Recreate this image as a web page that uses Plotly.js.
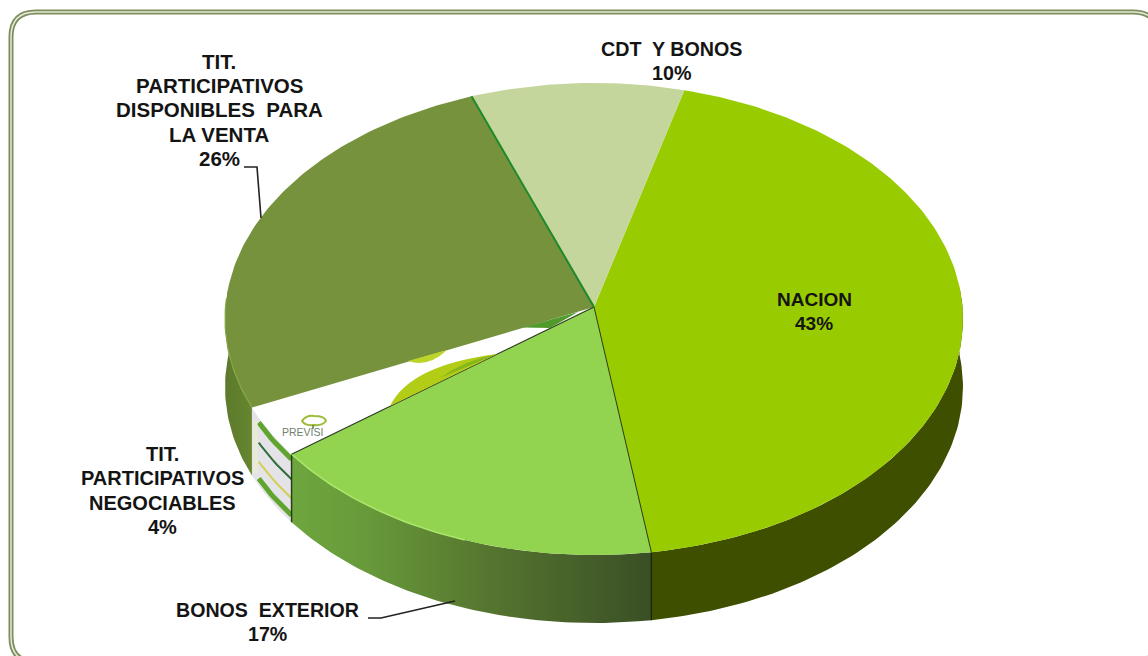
<!DOCTYPE html>
<html>
<head>
<meta charset="utf-8">
<script src="https://cdn.plot.ly/plotly-3.0.1.min.js"></script>
<style>html,body{margin:0;padding:0;background:#fff}#chart{width:1148px;height:656px}</style>
</head>
<body>
<div id="chart"></div>
<script>
// Data, clockwise from the start of NACION
const categories = ["NACION", "BONOS  EXTERIOR", "TIT. PARTICIPATIVOS NEGOCIABLES", "TIT. PARTICIPATIVOS DISPONIBLES  PARA LA VENTA", "CDT  Y BONOS"];
const values = [43.5, 17.0, 3.5, 26.2, 9.8];
const topColors = ["#99cc00", "#92d350", "#ffffff", "#76923c", "#c4d69b"];
const labelLines = [["NACION"], ["BONOS  EXTERIOR"], ["TIT.", "PARTICIPATIVOS", "NEGOCIABLES"], ["TIT.", "PARTICIPATIVOS", "DISPONIBLES  PARA", "LA VENTA"], ["CDT  Y BONOS"]];
const labelX = [814, 267, 162, 219, 671];
const labelFirstY = [299, 610, 454, 61, 49];
const labelSize = [19, 19.6, 20, 20.5, 19.7];
const shownPercent = [43, 17, 4, 26, 10];

// Projection of the tilted disc (page-pixel axes)
const apex = [594, 307], A = 368.5, B = 235.4, k = 0.0508, depth = 68, startDeg = 14.9, lineGap = 24.4;
function proj(deg, d) {
  const t = deg * Math.PI / 180, X = Math.sin(t), Y = Math.cos(t), w = 1 + k * Y;
  return [apex[0] + A * X / w, apex[1] - B * Y / w + (d || 0)];
}
function arc(a0, a1, d) {
  const pts = [], n = Math.max(2, Math.ceil(Math.abs(a1 - a0)));
  for (let i = 0; i <= n; i++) pts.push(proj(a0 + (a1 - a0) * i / n, d));
  return pts;
}
const total = values.reduce((a, b) => a + b, 0);
const bounds = [startDeg];
values.forEach(v => bounds.push(bounds[bounds.length - 1] + v / total * 360));

const traces = [];
function poly(pts, style) {
  pts = pts.slice(); pts.push(pts[0]);
  traces.push(Object.assign({type: "scatter", mode: "lines", x: pts.map(p => p[0]), y: pts.map(p => p[1]),
    fill: "toself", line: {width: 0}, hoverinfo: "skip", showlegend: false}, style));
}
function line(pts, color, width) {
  traces.push({type: "scatter", mode: "lines", x: pts.map(p => p[0]), y: pts.map(p => p[1]),
    line: {color: color, width: width}, hoverinfo: "skip", showlegend: false});
}

// Side walls
const wallStyles = [
  {fillcolor: "#3f4f00"},
  {fillgradient: {type: "horizontal", colorscale: [[0, "#6ea63e"], [0.2, "#689a3a"], [0.55, "#55752f"], [1, "#3a4f25"]]}},
  {fillcolor: "#e4e4e8"},
  {fillgradient: {type: "horizontal", colorscale: [[0, "#5c7a2c"], [1, "#66862f"]]}},
  null
];
[3, 2, 1, 0].forEach(i => {
  const a0 = Math.max(bounds[i], 85), a1 = Math.min(bounds[i + 1], 275);
  if (a1 <= a0) return;
  const upper = arc(a0, a1, 0), lower = arc(a1, a0, depth);
  poly(upper.concat(lower), wallStyles[i]);
});

// Stripes on the pale wall
const negA = bounds[2], negB = bounds[3];
[[5, "#5fa52e", 5], [25, "#2f6e3a", 2], [44, "#d2cf55", 2], [61, "#5fa52e", 5]].forEach(s => line(arc(negA, negB - 2.6, s[0]), s[1], s[2]));
// Faded left end of that wall
line([proj(negB - 1.4, 8), proj(negB - 1.4, 60)], "#e8ecd2", 4);

// Wall edges
line([proj(bounds[1], 0), proj(bounds[1], depth)], "#15200a", 1.2);
line([proj(bounds[2], 0), proj(bounds[2], depth)], "#2a3a18", 1.5);

// Top faces
values.forEach((v, i) => poly([apex].concat(arc(bounds[i], bounds[i + 1], 0)), {fillcolor: topColors[i]}));

// Rim highlights and slice borders
line(arc(bounds[1] + 28, bounds[2], 0), "#a9e66a", 1.6);
line(arc(bounds[3], 272, 0), "#86a644", 1.2);
line([apex, proj(bounds[1], 0)], "#2a3a10", 1);
line([apex, proj(bounds[2], 0)], "#2b3a22", 1.2);
line([proj(bounds[4], 0), apex], "#1d8a2a", 2);

// Labels, one annotation per line
const annotations = [];
values.forEach((v, i) => {
  labelLines[i].concat([shownPercent[i] + "%"]).forEach((txt, j) => {
    annotations.push({
      x: labelX[i], y: labelFirstY[i] + j * lineGap, xref: "x", yref: "y", showarrow: false,
      xanchor: "center", yanchor: "middle", align: "center", text: txt,
      font: {family: "Liberation Sans, Arial, sans-serif", size: labelSize[i], color: "#141414", weight: 700}
    });
  });
});
annotations.push({x: 302, y: 432, xref: "x", yref: "y", showarrow: false, text: "PREVISI",
  font: {family: "Liberation Sans, Arial, sans-serif", size: 10.5, color: "#6f7f70"}});

const framePath = "M 36 12 L 1133 12 Q 1158 12 1158 37 L 1158 637 Q 1158 662 1133 662 L 36 662 Q 11 662 11 637 L 11 37 Q 11 12 36 12 Z";
const shapes = [
  {type: "path", path: framePath, line: {color: "#7d8d5e", width: 5}, layer: "below"},
  {type: "path", path: framePath, line: {color: "#e3e9d6", width: 1.5}, layer: "below"},
  {type: "path", path: "M 244 167 L 257 167 L 261 218", line: {color: "#222", width: 1.6}},
  {type: "path", path: "M 368 618 L 381 618 L 455 601", line: {color: "#222", width: 1.6}},
  {type: "path", path: "M 390 406 Q 410 365 497 354 Z", fillcolor: "#b3cc16", line: {width: 0}},
  {type: "path", path: "M 440 378 Q 465 360 497 354 Z", fillcolor: "#86b81c", line: {width: 0}},
  {type: "path", path: "M 408 361 Q 428 368 447 350 Z", fillcolor: "#bcd42a", line: {width: 0}},
  {type: "path", path: "M 523 327.5 L 578 312 L 550 328 Z", fillcolor: "#4f9a2a", line: {width: 0}},
  {type: "path", path: "M 302 421 Q 306 415 314 416 Q 325 416 326 421 Q 322 426 314 425 Q 305 426 302 421 Z", fillcolor: "rgba(0,0,0,0)", line: {color: "#9dbb3a", width: 2}},
  {type: "path", path: "M 313 425 L 313 429", line: {color: "#5f7f40", width: 1.5}}
];

const layout = {
  width: 1148, height: 656, margin: {l: 0, r: 0, t: 0, b: 0},
  paper_bgcolor: "#ffffff", plot_bgcolor: "#ffffff", showlegend: false, hovermode: false,
  xaxis: {range: [0, 1148], visible: false, fixedrange: true},
  yaxis: {range: [656, 0], visible: false, fixedrange: true},
  annotations: annotations, shapes: shapes
};
Plotly.newPlot("chart", traces, layout, {displayModeBar: false, staticPlot: true});
</script>
</body>
</html>
